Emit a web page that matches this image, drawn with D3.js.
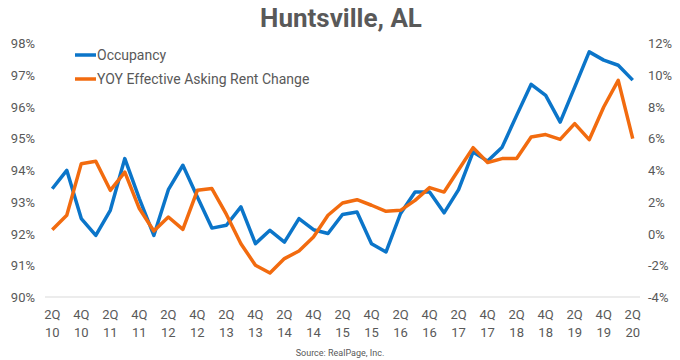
<!DOCTYPE html>
<html>
<head>
<meta charset="utf-8">
<script src="https://cdn.jsdelivr.net/npm/d3@7"></script>
<style>
  body { margin: 0; background: #fff; }
  svg { font-family: Roboto, "Noto Sans", sans-serif; }
</style>
</head>
<body>
<div id="chart"></div>
<script>
// quarters 2Q10 .. 2Q20
var quarters = [];
for (var yr = 10; yr <= 20; yr++) {
    [1, 2, 3, 4].forEach(function(q) {
        if ((yr === 10 && q < 2) || (yr === 20 && q > 2)) return;
        quarters.push(q + "Q" + yr);
    });
}

var occupancy = [93.41, 93.99, 92.47, 91.94, 92.73, 94.36, 93.1, 91.94, 93.38, 94.15,
    93.15, 92.17, 92.26, 92.84, 91.68, 92.1, 91.73, 92.47, 92.12, 92.0,
    92.6, 92.68, 91.68, 91.42, 92.63, 93.31, 93.31, 92.65, 93.38, 94.57,
    94.28, 94.72, 95.72, 96.7, 96.35, 95.51, 96.61, 97.72, 97.46, 97.3, 96.83];

var rentChange = [0.24, 1.15, 4.4, 4.55, 2.72, 3.87, 1.57, 0.16, 1.04, 0.26,
    2.72, 2.83, 1.2, -0.64, -2.0, -2.49, -1.58, -1.1, -0.22, 1.15,
    1.92, 2.13, 1.78, 1.4, 1.46, 2.09, 2.89, 2.61, 4.02, 5.41,
    4.47, 4.72, 4.72, 6.08, 6.23, 5.93, 6.92, 5.91, 7.97, 9.65, 5.98];

var leftTicks = [90, 91, 92, 93, 94, 95, 96, 97, 98];
var rightTicks = [-4, -2, 0, 2, 4, 6, 8, 10, 12];

var width = 680, height = 360;
var marginTop = 43, marginBottom = 63, marginLeft = 45, marginRight = 40;
var blue = "#0B75C9", orange = "#F26B0F", grey = "#595959";

const svg = d3.select("#chart").append("svg")
    .attr("width", width)
    .attr("height", height);

var x = d3.scalePoint()
    .domain(quarters)
    .range([marginLeft, width - marginRight])
    .padding(0.5);

var yL = d3.scaleLinear().domain([90, 98]).range([height - marginBottom, marginTop]);
var yR = d3.scaleLinear().domain([-4, 12]).range([height - marginBottom, marginTop]);

// title
svg.append("text")
    .attr("x", 341).attr("y", 27)
    .attr("text-anchor", "middle")
    .attr("font-size", 26).attr("font-weight", "bold")
    .attr("fill", grey)
    .text("Huntsville, AL");

// baseline
svg.append("line")
    .attr("x1", marginLeft).attr("x2", width - marginRight)
    .attr("y1", height - marginBottom).attr("y2", height - marginBottom)
    .attr("stroke", "#d9d9d9").attr("stroke-width", 1);

// left axis
svg.append("g").selectAll("text").data(leftTicks).join("text")
    .attr("x", 35).attr("y", d => yL(d) + 5)
    .attr("text-anchor", "end")
    .attr("font-size", 13).attr("fill", grey)
    .text(d => d + "%");

// right axis
svg.append("g").selectAll("text").data(rightTicks).join("text")
    .attr("x", 648).attr("y", d => yR(d) + 5)
    .attr("text-anchor", "start")
    .attr("font-size", 13).attr("fill", grey)
    .text(d => d + "%");

// x labels every other quarter
var xl = svg.append("g").selectAll("text")
    .data(quarters.filter((d, i) => i % 2 === 0)).join("text")
    .attr("text-anchor", "middle")
    .attr("font-size", 13).attr("fill", grey);
xl.append("tspan").attr("x", d => x(d)).attr("y", 319).text(d => d.slice(0, 2));
xl.append("tspan").attr("x", d => x(d)).attr("y", 337).text(d => d.slice(2));

// lines
var lineL = d3.line().x((d, i) => x(quarters[i])).y(d => yL(d));
var lineR = d3.line().x((d, i) => x(quarters[i])).y(d => yR(d));

svg.append("path").datum(occupancy)
    .attr("d", lineL).attr("fill", "none")
    .attr("stroke", blue).attr("stroke-width", 3.5)
    .attr("stroke-linejoin", "round");

svg.append("path").datum(rentChange)
    .attr("d", lineR).attr("fill", "none")
    .attr("stroke", orange).attr("stroke-width", 3.5)
    .attr("stroke-linejoin", "round");

// legend
var legend = [["Occupancy", blue], ["YOY Effective Asking Rent Change", orange]];
var lg = svg.append("g").selectAll("g").data(legend).join("g")
    .attr("transform", (d, i) => `translate(75,${55 + i * 24})`);
lg.append("line").attr("x1", 0).attr("x2", 21)
    .attr("stroke", d => d[1]).attr("stroke-width", 3.5);
lg.append("text").attr("x", 22).attr("y", 5)
    .attr("font-size", 14).attr("fill", grey)
    .text(d => d[0]);

// source
svg.append("text")
    .attr("x", width / 2).attr("y", 356)
    .attr("text-anchor", "middle")
    .attr("font-size", 9).attr("fill", grey)
    .text("Source: RealPage, Inc.");
</script>
</body>
</html>
